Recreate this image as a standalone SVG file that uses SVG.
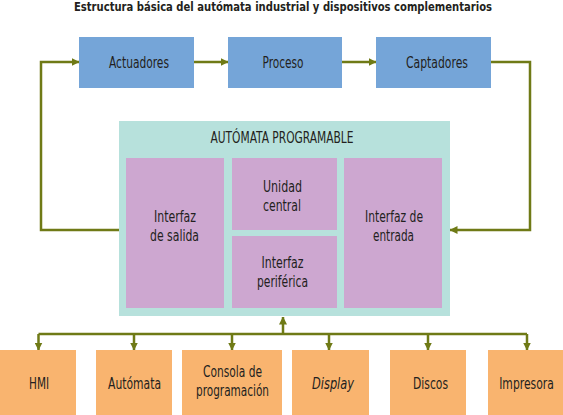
<svg xmlns="http://www.w3.org/2000/svg" width="563" height="415" viewBox="0 0 563 415">
<style>
text{font-family:"Liberation Sans Narrow","DejaVu Sans Condensed","Liberation Sans",sans-serif;font-size:15px;fill:#231f20;text-anchor:middle}
.t{font-weight:bold;font-size:12px}
.blue{fill:#75a5d8}
.teal{fill:#b7e1dc}
.pur{fill:#cda7d0}
.org{fill:#f9b46f}
.ln{fill:none;stroke:#6f7a16;stroke-width:2.5}
.ar{marker-end:url(#ah)}
</style>
<defs>
<marker id="ah" viewBox="0 0 8 8" refX="7.5" refY="4" markerWidth="8" markerHeight="8" markerUnits="userSpaceOnUse" orient="auto">
<path d="M0,0 L8,4 L0,8 Z" fill="#6f7a16"/>
</marker>
</defs>
<text class="t" x="283" y="11" textLength="418" lengthAdjust="spacingAndGlyphs">Estructura básica del autómata industrial y dispositivos complementarios</text>
<g id="connectors">
<path class="ln ar" d="M194,62 H228"/>
<path class="ln ar" d="M342,62 H376"/>
<path class="ln ar" d="M491,62 H530 V230 H450"/>
<path class="ln ar" d="M119,230 H41 V62 H79"/>
<path class="ln ar" d="M283,335 V317"/>
<path class="ln" d="M38.5,334 H527"/>
<path class="ln ar" d="M38.5,334 V350"/>
<path class="ln ar" d="M134,334 V350"/>
<path class="ln ar" d="M232,334 V350"/>
<path class="ln ar" d="M329,334 V350"/>
<path class="ln ar" d="M428,334 V350"/>
<path class="ln ar" d="M527,334 V350"/>
</g>
<g id="actuadores"><rect class="blue" x="79" y="37" width="115" height="51"/><text x="139" y="68" textLength="60" lengthAdjust="spacingAndGlyphs">Actuadores</text></g>
<g id="proceso"><rect class="blue" x="228" y="37" width="114" height="51"/><text x="283" y="68" textLength="41" lengthAdjust="spacingAndGlyphs">Proceso</text></g>
<g id="captadores"><rect class="blue" x="376" y="37" width="115" height="51"/><text x="437" y="68" textLength="62" lengthAdjust="spacingAndGlyphs">Captadores</text></g>
<g id="automata-programable"><rect class="teal" x="119" y="121" width="331" height="195"/><text x="282" y="143" textLength="143" lengthAdjust="spacingAndGlyphs">AUTÓMATA PROGRAMABLE</text></g>
<g id="interfaz-salida"><rect class="pur" x="126" y="158" width="98" height="150"/><text x="175" y="222" textLength="42" lengthAdjust="spacingAndGlyphs">Interfaz</text><text x="174.5" y="241" textLength="49" lengthAdjust="spacingAndGlyphs">de salida</text></g>
<g id="unidad-central"><rect class="pur" x="232" y="158" width="105" height="72"/><text x="282.5" y="192" textLength="39" lengthAdjust="spacingAndGlyphs">Unidad</text><text x="282" y="211" textLength="38" lengthAdjust="spacingAndGlyphs">central</text></g>
<g id="interfaz-periferica"><rect class="pur" x="232" y="236" width="105" height="72"/><text x="282.5" y="268" textLength="42" lengthAdjust="spacingAndGlyphs">Interfaz</text><text x="282.5" y="287" textLength="51" lengthAdjust="spacingAndGlyphs">periférica</text></g>
<g id="interfaz-entrada"><rect class="pur" x="344" y="158" width="98" height="150"/><text x="394" y="222" textLength="58" lengthAdjust="spacingAndGlyphs">Interfaz de</text><text x="393.5" y="241" textLength="41" lengthAdjust="spacingAndGlyphs">entrada</text></g>
<g id="hmi"><rect class="org" x="0" y="350" width="76" height="65"/><text x="39" y="389" textLength="20" lengthAdjust="spacingAndGlyphs">HMI</text></g>
<g id="automata"><rect class="org" x="96" y="350" width="76" height="65"/><text x="134.5" y="389" textLength="53" lengthAdjust="spacingAndGlyphs">Autómata</text></g>
<g id="consola"><rect class="org" x="182" y="350" width="100" height="65"/><text x="232.5" y="377" textLength="59" lengthAdjust="spacingAndGlyphs">Consola de</text><text x="232.5" y="396" textLength="73" lengthAdjust="spacingAndGlyphs">programación</text></g>
<g id="display"><rect class="org" x="292" y="350" width="77" height="65"/><text x="333" y="389" font-style="italic" textLength="42" lengthAdjust="spacingAndGlyphs">Display</text></g>
<g id="discos"><rect class="org" x="390" y="350" width="76" height="65"/><text x="430.5" y="389" textLength="35" lengthAdjust="spacingAndGlyphs">Discos</text></g>
<g id="impresora"><rect class="org" x="488" y="350" width="75" height="65"/><text transform="translate(526.5,389) scale(0.8,1)" x="0" y="0">Impresora</text></g>
</svg>
